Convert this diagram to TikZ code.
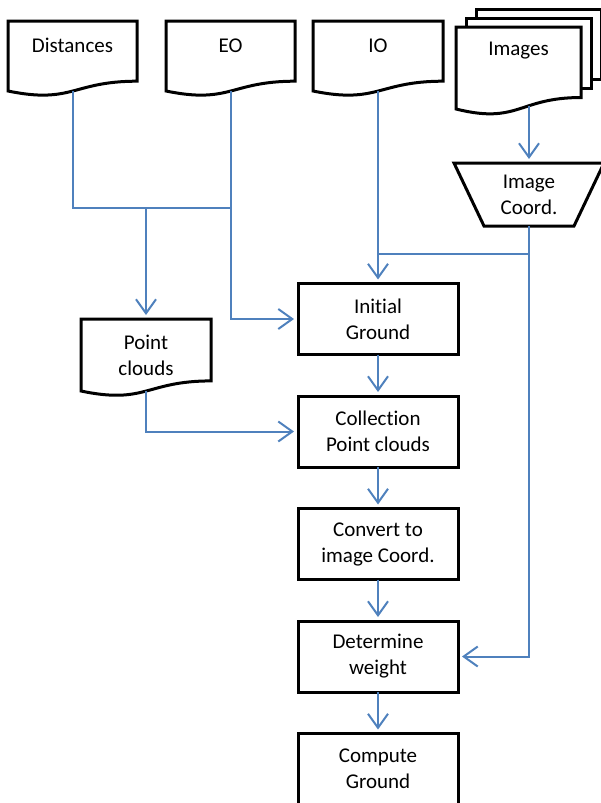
\documentclass[tikz,border=0pt]{standalone}
\usepackage{fontspec}
\setmainfont{Carlito}[Ligatures=NoCommon]
\usetikzlibrary{arrows.meta,positioning,calc}
\definecolor{flowblue}{RGB}{79,129,189}

% document outline with a wavy bottom edge round a node
\newcommand{\docoutline}[1]{(#1.north west) -- (#1.north east)
  -- ($(#1.north east)!0.86!(#1.south east)$)
  .. controls ($(#1.north)!0.86!(#1.south)$) and ($(#1.north)!1.19!(#1.south)$) .. (#1.south west) -- cycle}

\begin{document}
\begin{tikzpicture}[x=1pt,y=-1pt,font=\fontsize{21}{26}\selectfont,
  flow/.style={flowblue,line width=2pt},
  flowarrow/.style={flow,-{Straight Barb[length=14pt,width=20pt]},shorten >=4pt},
  doc/.style={inner sep=0pt,outer sep=0pt,minimum width=129pt,align=center},
  docline/.style={draw=black,line width=3pt},
  procbox/.style={draw,line width=3pt,outer sep=0pt,minimum width=160pt,minimum height=71pt,align=center,inner sep=0pt},
  node distance=41.5pt]
\useasboundingbox (0,0) rectangle (601,803);

% inputs
\node[doc,text height=31pt,text depth=39pt] (dist) at (72.5,56) {Distances};
\node[doc,text height=31pt,text depth=39pt] (eo) at (230.5,56) {EO};
\node[doc,minimum width=130pt,text height=31pt,text depth=39pt] (io) at (378,56) {IO};
\node[doc,minimum width=125pt,text height=28pt,text depth=54pt] (img) at (518.5,68) {Images};
\foreach \n in {dist,eo,io,img}{\draw[docline] \docoutline{\n};}
% stacked sheets behind the images
\draw[docline] ($(img.north west)+(10,0)$) -- ++(0,-9) -- ($(img.north east)+(10,-9)$) -- ++(0,70) -- ++(-10,0);
\draw[docline] ($(img.north west)+(20,-9)$) -- ++(0,-9) -- ($(img.north east)+(20,-18)$) -- ++(0,70) -- ++(-10,0);

\node[inner sep=0pt,outer sep=0pt,minimum width=90pt,minimum height=63pt,align=center] (coord) at (529,194.5) {Image\\Coord.};
\draw[docline] (coord.south west) -- (coord.south east) -- ($(coord.north east)+(30,0)$)
  -- ($(coord.north west)+(-30,0)$) -- cycle;

\node[doc,minimum width=130pt,minimum height=72pt] (pc) at (146,355) {Point\\clouds};
\draw[docline] \docoutline{pc};

% processing chain
\node[procbox] (init) at (378,319) {Initial\\Ground};
\node[procbox,below=of init] (coll) {Collection\\Point clouds};
\node[procbox,below=of coll] (conv) {Convert to\\image Coord.};
\node[procbox,below=of conv] (det) {Determine\\weight};
\node[procbox,below=of det] (comp) {Compute\\Ground};

% connections
\path (dist.south) ++(0,117) coordinate (djoin);
\path (coord.south) ++(0,28) coordinate (cjoin);
\draw[flow] (dist.south) -- (djoin) -- (djoin -| eo.south);
\draw[flowarrow] (pc.north |- djoin) -- (pc.north);
\draw[flowarrow] (eo.south) |- (init.west);
\draw[flowarrow] (io.south) -- (init.north);
\draw[flowarrow,shorten <=-3.5pt] (img.south -| coord.north) -- (coord.north);
\draw[flowarrow] (coord.south) |- (det.east);
\draw[flow] (cjoin) -- (cjoin -| io.south);
\draw[flowarrow] (pc.south) |- (coll.west);
\foreach \a/\b in {init/coll,coll/conv,conv/det,det/comp}{\draw[flowarrow] (\a) -- (\b);}
\end{tikzpicture}
\end{document}
